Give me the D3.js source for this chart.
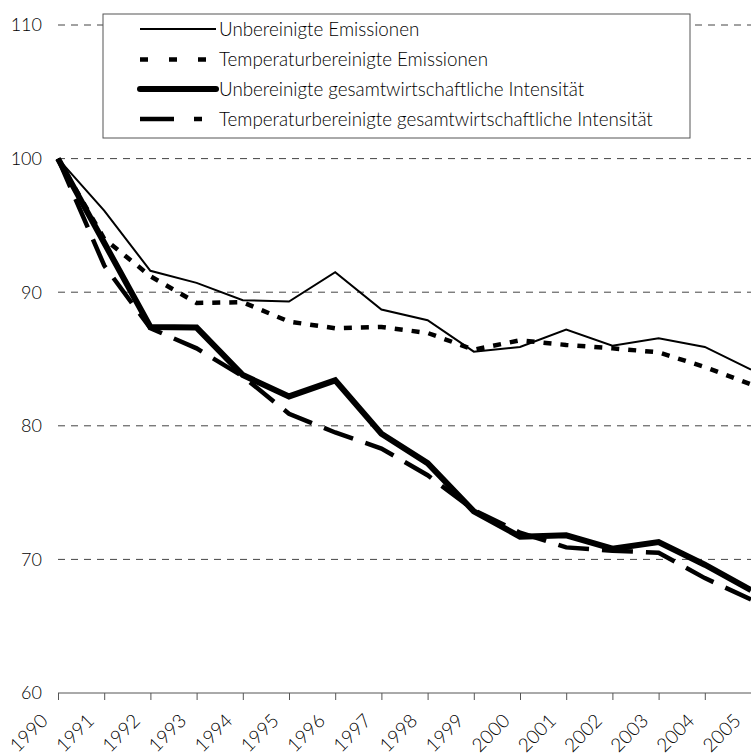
<!DOCTYPE html>
<html>
<head>
<meta charset="utf-8">
<script src="https://cdn.jsdelivr.net/npm/d3@7"></script>
<style>
  body { margin: 0; background: #fff; }
  text { font-family: Lato, "Open Sans", sans-serif; font-weight: 300; fill: #000; }
</style>
</head>
<body>
<div id="chart"></div>
<script>
const width = 751, height = 756;

const years = d3.range(1990, 2006);
const yTicks = [60, 70, 80, 90, 100, 110];

// Index 1990 = 100
const emUnadj = [100, 96.1, 91.6, 90.7, 89.4, 89.3, 91.5, 88.7, 87.9, 85.55, 85.9, 87.2, 86.0, 86.55, 85.9, 84.2];
const emTemp = [100, 94.0, 91.2, 89.2, 89.25, 87.8, 87.3, 87.4, 86.95, 85.7, 86.4, 86.05, 85.8, 85.5, 84.4, 83.1];
const intUnadj = [100, 93.7, 87.4, 87.35, 83.8, 82.2, 83.4, 79.4, 77.2, 73.6, 71.7, 71.8, 70.8, 71.3, 69.6, 67.7];
const intTemp = [100, 92.0, 87.3, 85.8, 83.7, 80.9, 79.5, 78.3, 76.3, 73.7, 72.0, 70.9, 70.65, 70.5, 68.6, 67.0];

const seriesNames = [
    'Unbereinigte Emissionen',
    'Temperaturbereinigte Emissionen',
    'Unbereinigte gesamtwirtschaftliche Intensität',
    'Temperaturbereinigte gesamtwirtschaftliche Intensität'
];

const styles = [
    { w: 2, dash: null, legendDash: null, cap: 'butt' },
    { w: 4.5, dash: '8,9', legendDash: '8,21', cap: 'butt' },
    { w: 6, dash: null, legendDash: null, cap: 'round' },
    { w: 4.5, dash: '31,13', legendDash: '34,20,8,40', cap: 'butt' }
];

const x = d3.scaleLinear().domain([1990, 2005]).range([58, 751]);
const y = d3.scaleLinear().domain([60, 110]).range([693, 25]);

const svg = d3.select('#chart').append('svg')
    .attr('width', width)
    .attr('height', height);

// gridlines
svg.append('g').selectAll('line')
    .data(yTicks.filter(d => d > 60))
    .enter().append('line')
    .attr('x1', 58).attr('x2', width)
    .attr('y1', d => y(d)).attr('y2', d => y(d))
    .attr('stroke', '#444')
    .attr('stroke-width', 1)
    .attr('stroke-dasharray', '7,6');

// y labels
svg.append('g').selectAll('text')
    .data(yTicks)
    .enter().append('text')
    .attr('x', 42)
    .attr('y', d => y(d))
    .attr('dy', '0.35em')
    .attr('text-anchor', 'end')
    .style('font-size', '18px')
    .text(d => d);

// x axis
const xAxis = svg.append('g')
    .attr('transform', `translate(0,${y(60)})`)
    .call(d3.axisBottom(x).tickValues(years).tickSize(7).tickFormat(''));
xAxis.select('.domain').attr('stroke', '#555').attr('d', `M58,0H${width}`);
xAxis.selectAll('.tick line').attr('stroke', '#555');

svg.append('g').selectAll('text')
    .data(years)
    .enter().append('text')
    .attr('transform', d => `translate(${x(d) - 9},722) rotate(-45)`)
    .attr('text-anchor', 'end')
    .style('font-size', '19px')
    .text(d => d);

// lines
const data = [emUnadj, emTemp, intUnadj, intTemp];
const line = d3.line()
    .x((d, i) => x(years[i]))
    .y(d => y(d));

data.forEach((s, i) => {
    svg.append('path')
        .datum(s)
        .attr('d', line)
        .attr('fill', 'none')
        .attr('stroke', '#000')
        .attr('stroke-width', styles[i].w)
        .attr('stroke-linejoin', 'miter')
        .attr('stroke-dasharray', styles[i].dash);
});

// legend
const legend = svg.append('g');
legend.append('rect')
    .attr('x', 103).attr('y', 14)
    .attr('width', 587).attr('height', 124)
    .attr('fill', '#fff')
    .attr('stroke', '#555')
    .attr('stroke-width', 1);

const rowY = [29, 59.5, 89, 119];
seriesNames.forEach((name, i) => {
    legend.append('line')
        .attr('x1', 140).attr('x2', 216)
        .attr('y1', rowY[i]).attr('y2', rowY[i])
        .attr('stroke', '#000')
        .attr('stroke-width', styles[i].w)
        .attr('stroke-linecap', styles[i].cap)
        .attr('stroke-dasharray', styles[i].legendDash);
    legend.append('text')
        .attr('x', 219)
        .attr('y', rowY[i])
        .attr('dy', '0.35em')
        .style('font-size', '18.8px')
        .text(name);
});
</script>
</body>
</html>
